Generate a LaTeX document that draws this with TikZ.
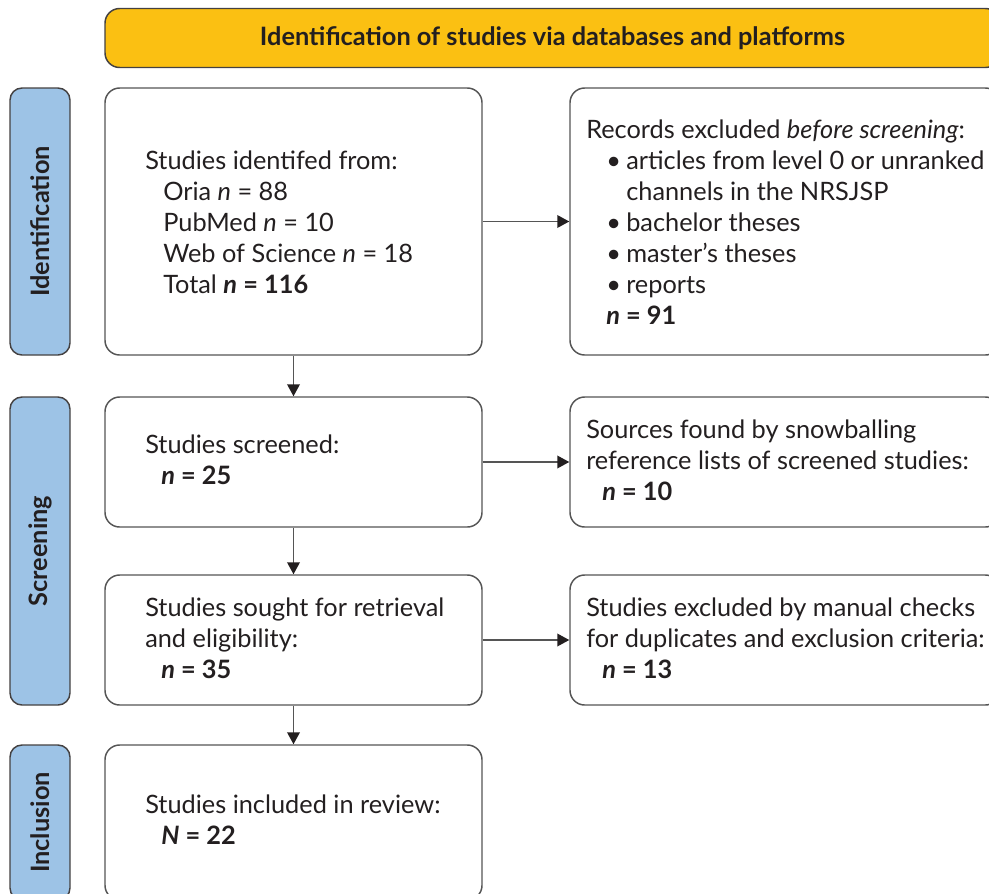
\documentclass[tikz,border=0pt]{standalone}
\usepackage{fontspec}
\setmainfont{Lato}
\usetikzlibrary{arrows.meta}
\definecolor{hdr}{HTML}{FBC012}
\definecolor{side}{HTML}{9DC3E6}
\definecolor{edge}{HTML}{555555}
\definecolor{ink}{HTML}{231F20}
\tikzset{
  box/.style={draw=edge, line width=1.1pt, rounded corners=11pt, fill=white, inner sep=0pt},
  hdrbox/.style={draw=ink!85, line width=1.1pt, rounded corners=11pt, fill=hdr, inner sep=0pt,
    minimum width=671.25pt, minimum height=44.25pt, text=ink, font=\fontsize{19}{23}\selectfont\bfseries},
  sidebox/.style={draw=ink!85, line width=1.1pt, rounded corners=9pt, fill=side, rotate=90,
    minimum height=45pt, inner sep=0pt, text=ink, font=\fontsize{19}{23}\selectfont\bfseries},
  txt/.style={inner sep=0pt, align=left, anchor=west, text=ink, font=\fontsize{19}{23.25}\selectfont},
  arr/.style={draw=edge, line width=1.1pt, -{Triangle[length=9pt,width=9.5pt,color=ink]}},
}
\begin{document}
\begin{tikzpicture}[x=0.75pt,y=-0.75pt]
\useasboundingbox (0,0) rectangle (989,893);
\clip (0,0) rectangle (989,893);
% header
\node[hdrbox] (hdr) at (552.5,38) {Identification of studies via databases and platforms};
% side labels
\node[sidebox, minimum width=200.25pt] (sid) at (40,221.5) {Identification};
\node[sidebox, minimum width=231pt] (sscr) at (40,551) {Screening};
\node[sidebox, minimum width=116.25pt] (sinc) at (40,822.5) {Inclusion};
% left boxes
\node[box, minimum width=282.75pt, minimum height=200.25pt] (b1) at (293.5,221.5) {};
\node[box, minimum width=282.75pt, minimum height=97.5pt] (b2) at (293.5,462) {};
\node[box, minimum width=282.75pt, minimum height=97.5pt] (b3) at (293.5,640) {};
\node[box, minimum width=282.75pt, minimum height=116.25pt] (b4) at (293.5,822.5) {};
% right boxes
\node[box, minimum width=322.5pt, minimum height=200.25pt] (r1) at (785,221.5) {};
\node[box, minimum width=322.5pt, minimum height=97.5pt] (r2) at (785,462) {};
\node[box, minimum width=322.5pt, minimum height=97.5pt] (r3) at (785,640) {};
% texts
\node[txt] (b1t) at (145,222) {Studies identifed from:\\
\hspace*{13.5pt}Oria \textit{n} = 88\\
\hspace*{13.5pt}PubMed \textit{n} = 10\\
\hspace*{13.5pt}Web of Science \textit{n} = 18\\
\hspace*{13.5pt}Total \textbf{\textit{n} = 116}};
\node[txt] (r1t) at (586,222) {Records excluded \textit{before screening}:\\
\hspace*{15pt}\makebox[15pt][l]{\textbullet}articles from level 0 or unranked\\
\hspace*{30pt}channels in the NRSJSP\\
\hspace*{15pt}\makebox[15pt][l]{\textbullet}bachelor theses\\
\hspace*{15pt}\makebox[15pt][l]{\textbullet}master’s theses\\
\hspace*{15pt}\makebox[15pt][l]{\textbullet}reports\\
\hspace*{15pt}\textbf{\textit{n} = 91}};
\node[txt] (b2t) at (145,460) {Studies screened:\\
\hspace*{12pt}\textbf{\textit{n} = 25}};
\node[txt] (r2t) at (586,460) {Sources found by snowballing\\
reference lists of screened studies:\\
\hspace*{12pt}\textbf{\textit{n} = 10}};
\node[txt] (b3t) at (145,638) {Studies sought for retrieval\\
and eligibility:\\
\hspace*{12pt}\textbf{\textit{n} = 35}};
\node[txt] (r3t) at (586,638) {Studies excluded by manual checks\\
for duplicates and exclusion criteria:\\
\hspace*{12pt}\textbf{\textit{n} = 13}};
\node[txt] (b4t) at (145,820) {Studies included in review:\\
\hspace*{12pt}\textbf{\textit{N} = 22}};
% arrows
\draw[arr] (b1.south) -- (b2.north);
\draw[arr] (b2.south) -- (b3.north);
\draw[arr] (b3.south) -- (b4.north);
\draw[arr] (b1.east) -- (r1.west);
\draw[arr] (b2.east) -- (r2.west);
\draw[arr] (b3.east) -- (r3.west);
\end{tikzpicture}
\end{document}
